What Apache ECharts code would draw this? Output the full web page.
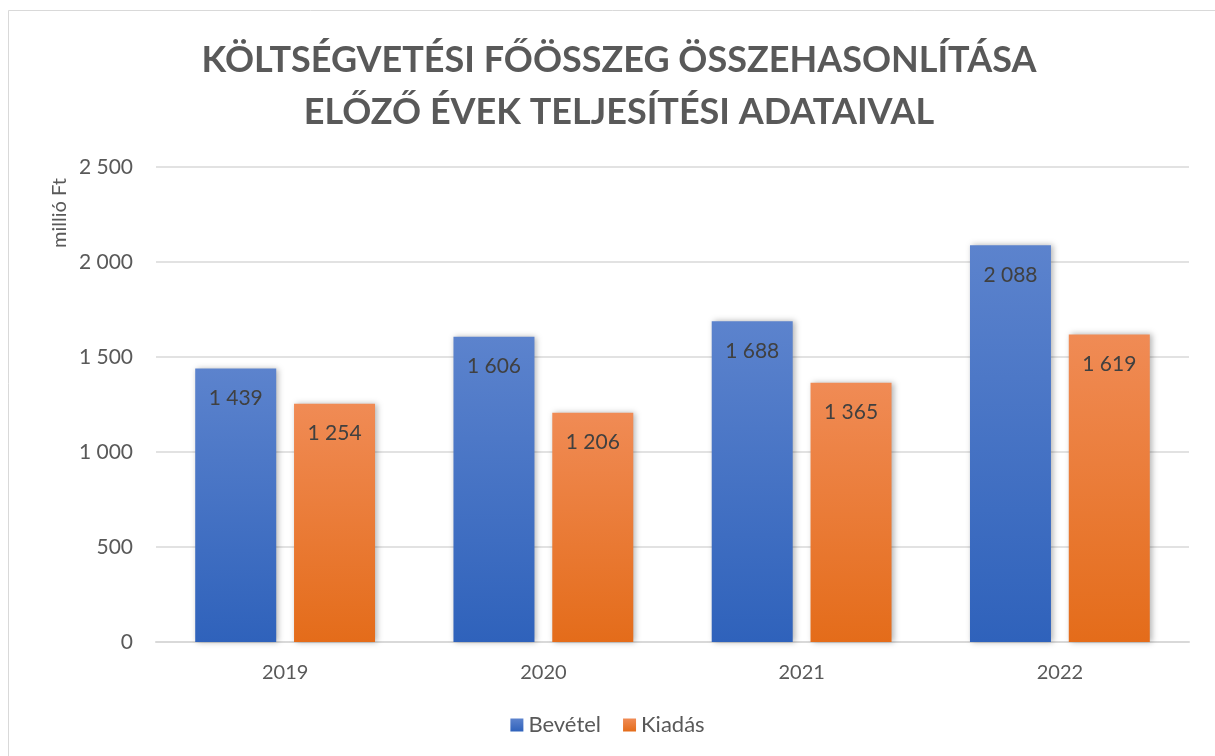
<!DOCTYPE html>
<html>
<head>
<meta charset="utf-8">
<script src="https://cdn.jsdelivr.net/npm/echarts@6/dist/echarts.min.js"></script>
<style>
    html, body { margin: 0; padding: 0; background: #fff; }
    #chart { width: 1215px; height: 756px; }
</style>
</head>
<body>
<div id="chart"></div>
<script>
// évek (kategóriák)
const years = ['2019', '2020', '2021', '2022']
// bevétel, millió Ft
const bevetel = [1439, 1606, 1688, 2088]
// kiadás, millió Ft
const kiadas = [1254, 1206, 1365, 1619]
// y tengely
const yMax = 2500
const yStep = 500

// ezres tagolás szóközzel
const fmt = v => String(v).replace(/\B(?=(\d{3})+(?!\d))/g, ' ')

const font = 'Lato, "Open Sans", sans-serif'

const grad = (top, bottom) => new echarts.graphic.LinearGradient(0, 0, 0, 1, [
    { offset: 0, color: top },
    { offset: 1, color: bottom }
])

const barLabel = {
    show: true,
    position: 'insideTop',
    distance: 19,
    color: '#404040',
    fontSize: 21,
    fontFamily: font,
    formatter: p => fmt(p.value)
}

const chart = echarts.init(document.getElementById('chart'))
chart.setOption({
    backgroundColor: '#fff',
    animation: false,
    textStyle: { fontFamily: font },
    title: {
        text: 'KÖLTSÉGVETÉSI FŐÖSSZEG ÖSSZEHASONLÍTÁSA\nELŐZŐ ÉVEK TELJESÍTÉSI ADATAIVAL',
        left: 614,
        top: 29,
        textAlign: 'center',
        textStyle: {
            color: '#595959',
            fontSize: 36,
            fontWeight: 'bold',
            fontFamily: font,
            lineHeight: 52
        }
    },
    graphic: [
        {
            type: 'rect',
            shape: { x: 8.5, y: 10.5, width: 1300, height: 900 },
            style: { fill: 'none', stroke: '#d9d9d9', lineWidth: 1 },
            silent: true
        },
        {
            // y tengely felirata
            type: 'text',
            x: 60,
            y: 213,
            rotation: Math.PI / 2,
            style: {
                text: 'millió Ft',
                fill: '#595959',
                fontSize: 20,
                fontFamily: font,
                align: 'center',
                verticalAlign: 'middle'
            },
            silent: true
        }
    ],
    legend: {
        bottom: 15,
        left: 'center',
        icon: 'rect',
        itemWidth: 13,
        itemHeight: 13,
        itemGap: 22,
        itemStyle: { shadowBlur: 0, shadowOffsetX: 0 },
        textStyle: { color: '#595959', fontSize: 22, fontFamily: font }
    },
    grid: {
        left: 156,
        right: 26,
        top: 167,
        bottom: 114
    },
    xAxis: {
        type: 'category',
        data: years,
        axisLine: { lineStyle: { color: '#d9d9d9', width: 2 } },
        axisTick: { show: false },
        axisLabel: { color: '#595959', fontSize: 20, margin: 21, fontFamily: font }
    },
    yAxis: {
        type: 'value',
        min: 0,
        max: yMax,
        interval: yStep,
        axisLine: { show: false },
        axisTick: { show: false },
        axisLabel: {
            color: '#595959',
            fontSize: 21,
            margin: 23,
            fontFamily: font,
            formatter: v => fmt(v)
        },
        splitLine: { lineStyle: { color: '#d9d9d9', width: 1.5 } }
    },
    series: [
        {
            name: 'Bevétel',
            type: 'bar',
            data: bevetel,
            barWidth: 81,
            barGap: '22%',
            itemStyle: {
                color: grad('#5c83cd', '#2f62bb'),
                shadowBlur: 6,
                shadowColor: 'rgba(0,0,0,0.3)',
                shadowOffsetX: 2
            },
            label: barLabel
        },
        {
            name: 'Kiadás',
            type: 'bar',
            data: kiadas,
            barWidth: 81,
            itemStyle: {
                color: grad('#f08b55', '#e46c1a'),
                shadowBlur: 6,
                shadowColor: 'rgba(0,0,0,0.3)',
                shadowOffsetX: 2
            },
            label: barLabel
        }
    ]
})
</script>
</body>
</html>
